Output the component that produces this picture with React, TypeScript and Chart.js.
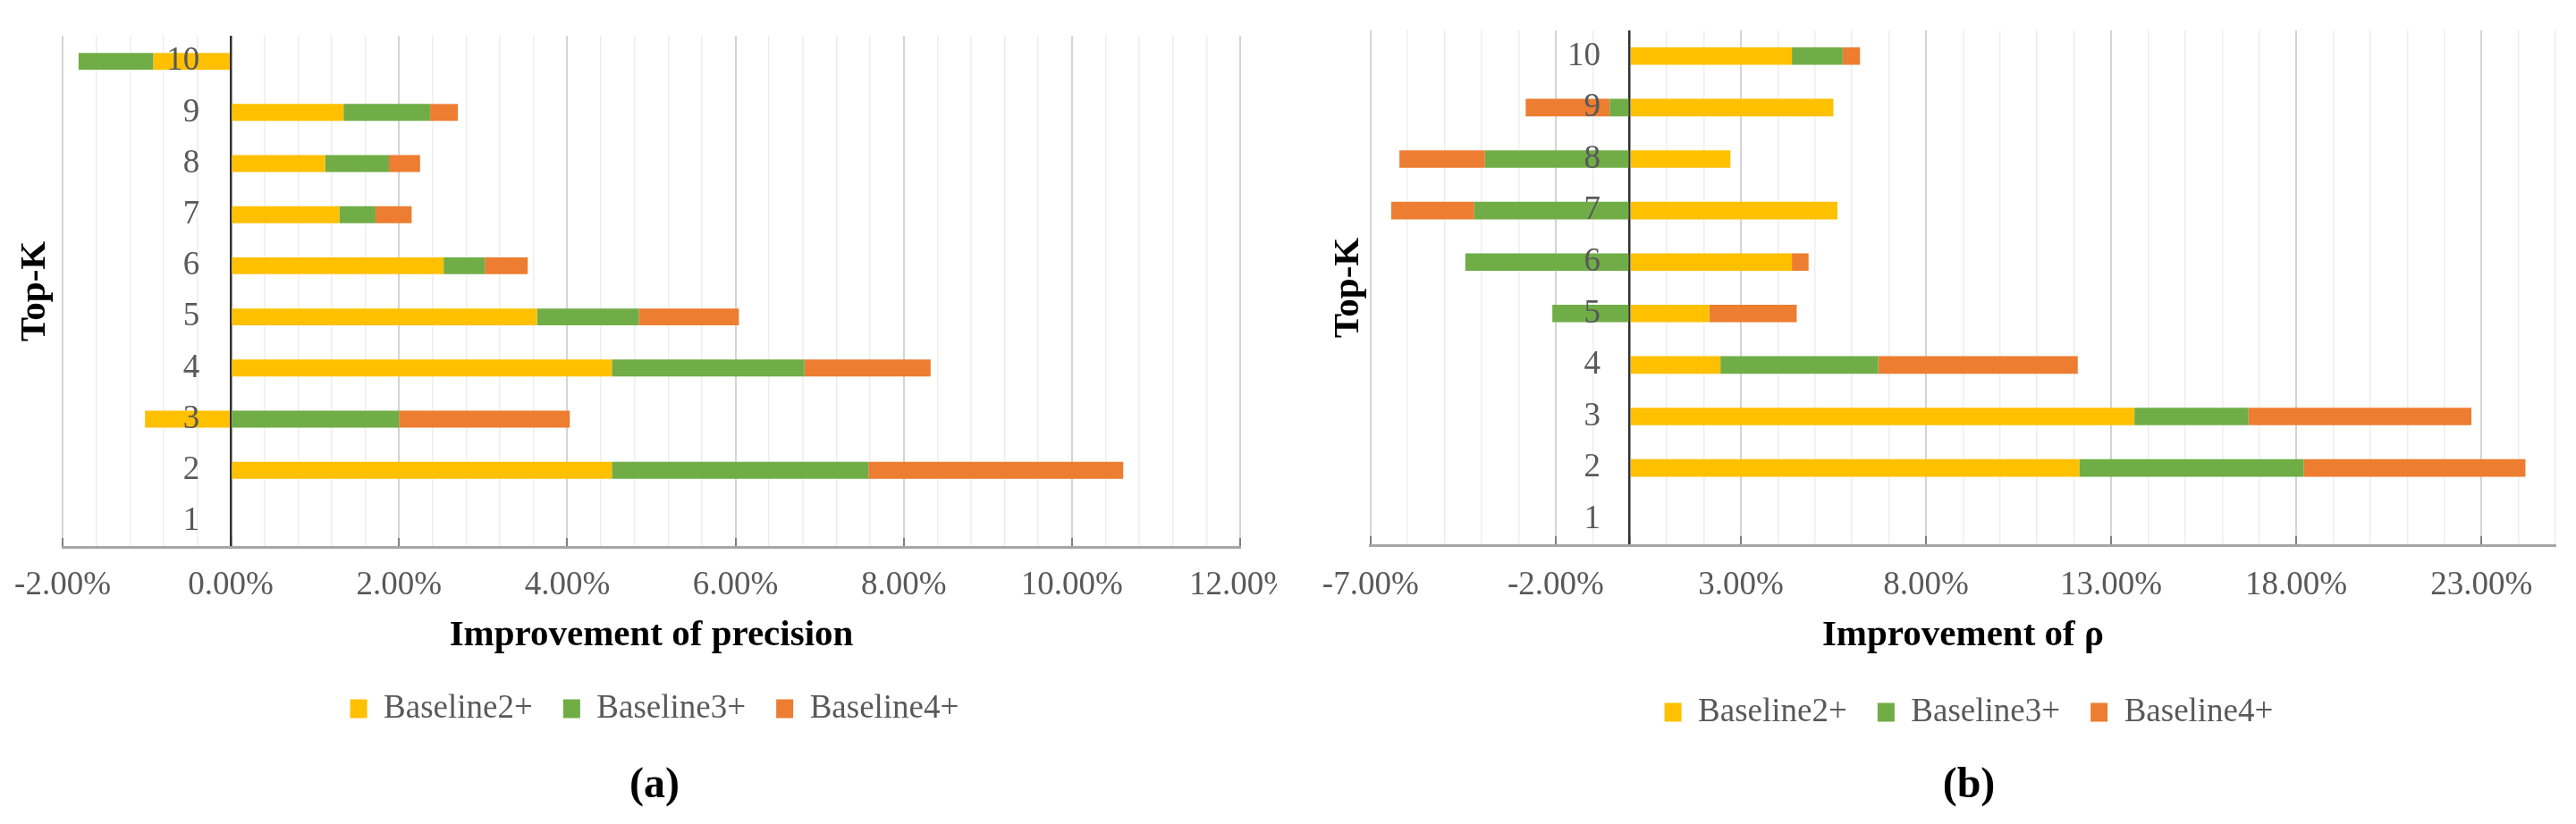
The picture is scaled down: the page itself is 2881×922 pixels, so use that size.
import React, { useEffect, useRef } from "react";
import { Chart, registerables } from "chart.js";

Chart.register(...registerables);

// ---------- data ----------
const topK = ["1", "2", "3", "4", "5", "6", "7", "8", "9", "10"];
const seriesNames = ["Baseline2+", "Baseline3+", "Baseline4+"];
const seriesColors = ["#FFC000", "#70AD47", "#ED7D31"];

// (a) Improvement of precision (%), K = 1..10
const precBaseline2 = [0, 4.53, -1.02, 4.53, 3.64, 2.53, 1.29, 1.12, 1.34, -0.92];
const precBaseline3 = [0, 3.05, 2.0, 2.29, 1.21, 0.49, 0.43, 0.76, 1.03, -0.89];
const precBaseline4 = [0, 3.03, 2.03, 1.5, 1.19, 0.51, 0.43, 0.37, 0.33, 0];

// (b) Improvement of rho (%), K = 1..10
const rhoBaseline2 = [0, 12.14, 13.63, 2.45, 2.15, 4.38, 5.61, 2.72, 5.5, 4.38];
const rhoBaseline3 = [0, 6.06, 3.08, 4.26, -2.09, -4.44, -4.2, -3.91, -0.54, 1.37];
const rhoBaseline4 = [0, 5.99, 6.02, 5.39, 2.36, 0.45, -2.24, -2.31, -2.27, 0.47];

// axis settings
const precAxis = { min: -2, max: 12, minor: 0.4, major: 2 };
const rhoAxis = { min: -7, max: 25, minor: 1, major: 5 };

const FONT = '"Liberation Serif", "Times New Roman", serif';
Chart.defaults.font.family = FONT;

type Params = {
  series: number[][];
  axis: { min: number; max: number; minor: number; major: number };
  xTitle: string;
  caption: string;
  padTop: number;
  tickPad: number;
  xTitlePad: { top: number; bottom: number };
  captionPad: { top: number; bottom: number };
  ytPad: { top: number; bottom: number };
  leftW: number;
  rightW: number;
  labelX: number;
  barPct: number;
};

function makeConfig(p: Params): any {
  const { min, max, minor, major } = p.axis;
  const isMajor = (v: number) => {
    const q = (v - min) / major;
    return Math.abs(q - Math.round(q)) < 1e-6;
  };
  const isZero = (v: number) => Math.abs(v) < 1e-9;
  return {
    type: "bar",
    data: {
      labels: topK,
      datasets: p.series.map((d, i) => ({
        label: seriesNames[i],
        data: d,
        backgroundColor: seriesColors[i],
        borderWidth: 0,
        barPercentage: p.barPct,
        categoryPercentage: 1,
        stack: "s",
        xAxisID: "x",
        yAxisID: "y",
      })),
    },
    options: {
      indexAxis: "y",
      responsive: false,
      animation: false,
      events: [],
      layout: { padding: { top: p.padTop, left: 0, right: 0, bottom: 0 } },
      scales: {
        x: {
          type: "linear",
          position: "bottom",
          stacked: true,
          min,
          max,
          afterFit: (s: any) => {
            s.paddingLeft = 0;
            s.paddingRight = 0;
          },
          ticks: {
            stepSize: minor,
            autoSkip: false,
            maxRotation: 0,
            minRotation: 0,
            padding: p.tickPad,
            color: "#595959",
            font: { family: FONT, size: 37, lineHeight: 1.2 },
            callback: (v: number) => (isMajor(v) ? v.toFixed(2) + "%" : ""),
          },
          grid: {
            drawTicks: true,
            tickLength: -10,
            tickWidth: 2,
            tickColor: (c: any) => {
              const v = c.tick ? c.tick.value : 1;
              if (isZero(v)) return "#303030";
              return isMajor(v) ? "#7F7F7F" : "rgba(0,0,0,0)";
            },
            color: (c: any) => {
              const v = c.tick ? c.tick.value : 1;
              if (isZero(v)) return "#303030";
              return isMajor(v) ? "#D4D4D4" : "#EEEEEE";
            },
            lineWidth: (c: any) => {
              const v = c.tick ? c.tick.value : 1;
              if (isZero(v)) return 2.5;
              return isMajor(v) ? 2 : 1.5;
            },
          },
          border: { display: true, color: "#A6A6A6", width: 3 },
          title: {
            display: true,
            text: p.xTitle,
            color: "#000000",
            font: { family: FONT, size: 41, weight: "bold", lineHeight: 0.5 },
            padding: p.xTitlePad,
          },
        },
        y: {
          type: "category",
          stacked: true,
          reverse: true,
          position: { x: p.labelX },
          grid: { display: false, drawTicks: false },
          border: { display: false },
          ticks: {
            z: 1,
            padding: 0,
            color: "#595959",
            font: { family: FONT, size: 37, lineHeight: 1.2 },
          },
        },
        yt: {
          type: "category",
          position: "left",
          reverse: true,
          grid: { display: false, drawTicks: false },
          border: { display: false },
          ticks: { display: false },
          afterFit: (s: any) => {
            s.width = p.leftW;
          },
          title: {
            display: true,
            text: "Top-K",
            color: "#000000",
            font: { family: FONT, size: 41, weight: "bold", lineHeight: 1.2 },
            padding: p.ytPad,
          },
        },
        yr: {
          type: "category",
          position: "right",
          grid: { display: false, drawTicks: false },
          border: { display: false },
          ticks: { display: false },
          afterFit: (s: any) => {
            s.width = p.rightW;
          },
        },
      },
      plugins: {
        legend: {
          position: "bottom",
          align: "center",
          labels: {
            boxWidth: 19,
            boxHeight: 21,
            padding: 34,
            color: "#595959",
            font: { family: FONT, size: 37 },
          },
        },
        title: {
          display: true,
          position: "bottom",
          text: p.caption,
          color: "#000000",
          font: { family: FONT, size: 48, weight: "bold", lineHeight: 1.2 },
          padding: p.captionPad,
        },
        tooltip: { enabled: false },
      },
    },
  };
}

function ChartBox(props: {
  params: Params;
  width: number;
  height: number;
  wrapLeft: number;
  wrapWidth: number;
  canvasLeft: number;
}) {
  const ref = useRef<HTMLCanvasElement>(null);
  useEffect(() => {
    const chart = new Chart(ref.current as HTMLCanvasElement, makeConfig(props.params));
    return () => chart.destroy();
  }, []);
  return (
    <div
      style={{
        position: "absolute",
        left: props.wrapLeft,
        top: 0,
        width: props.wrapWidth,
        height: props.height,
        overflow: "hidden",
      }}
    >
      <canvas
        ref={ref}
        width={props.width}
        height={props.height}
        style={{ position: "absolute", left: props.canvasLeft, top: 0, width: props.width, height: props.height }}
      />
    </div>
  );
}

const leftParams: Params = {
  series: [precBaseline2, precBaseline3, precBaseline4],
  axis: precAxis,
  xTitle: "Improvement of precision",
  caption: "(a)",
  padTop: 40,
  tickPad: 30.8,
  xTitlePad: { top: -7.25, bottom: 19.25 },
  captionPad: { top: 29.7, bottom: 13.2 },
  ytPad: { top: 14.4, bottom: 6.4 },
  leftW: 70,
  rightW: 77,
  labelX: -0.37,
  barPct: 0.33,
};

const rightParams: Params = {
  series: [rhoBaseline2, rhoBaseline3, rhoBaseline4],
  axis: rhoAxis,
  xTitle: "Improvement of ρ",
  caption: "(b)",
  padTop: 34,
  tickPad: 32.8,
  xTitlePad: { top: -9.25, bottom: 23.25 },
  captionPad: { top: 25.7, bottom: 13.2 },
  ytPad: { top: 23.4, bottom: 0.2 },
  leftW: 72.8,
  rightW: 86,
  labelX: -0.79,
  barPct: 0.34,
};

export default function App() {
  return (
    <div style={{ position: "absolute", left: 0, top: 0, width: 2881, height: 922, overflow: "hidden", background: "#FFFFFF" }}>
      <ChartBox params={leftParams} width={1464} height={922} wrapLeft={0} wrapWidth={1428} canvasLeft={0} />
      <ChartBox params={rightParams} width={1484} height={922} wrapLeft={1440} wrapWidth={1441} canvasLeft={20} />
    </div>
  );
}
